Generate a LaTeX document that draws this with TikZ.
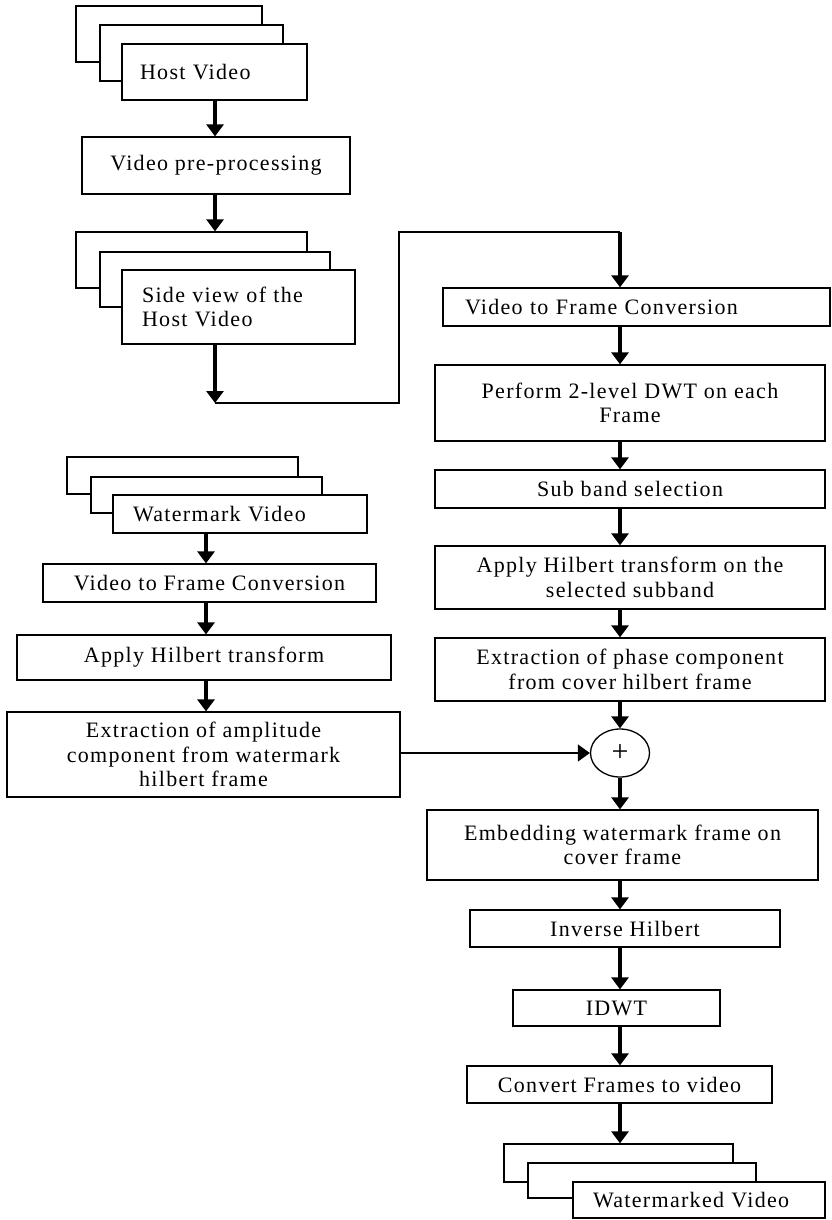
\documentclass[tikz,border=0pt]{standalone}
\usepackage{fontspec}
\setmainfont{Liberation Serif}[LetterSpace=6]
\usetikzlibrary{positioning,arrows.meta,shapes.geometric}
\tikzset{block/.style={draw, line width=1.3pt, fill=white, align=center, inner sep=0pt, font=\fontsize{22}{24.5}\selectfont},
  lblock/.style={block, align=left},
  sheet/.style={draw, line width=1.3pt, fill=white, inner sep=0pt},
  line/.style={-{Triangle[length=12pt,width=17pt]}, line width=4.3pt},
  link/.style={line width=1.3pt}}

\begin{document}
\begin{tikzpicture}[x=1pt,y=-1pt]
    \useasboundingbox (0,0) rectangle (831,1220);
    \coordinate (hc) at (215,0);
    \coordinate (lc) at (206,0);
    \coordinate (rc) at (620,0);

    \node[sheet, minimum width=186pt, minimum height=56pt]              (a1) at (169,34)    {};
    \node[sheet, minimum width=183pt, minimum height=56pt]              (a2) at (191.5,53)  {};
    \node[lblock, text width=149pt, inner xsep=18pt, minimum height=56pt] (a) at (214.5,72) {Host Video};
    \node[block, minimum width=268pt, minimum height=57pt]              (b)  at (216,165.5) {Video pre-processing};
    \node[sheet, minimum width=231pt, minimum height=56pt]              (c1) at (191.5,260) {};
    \node[sheet, minimum width=230pt, minimum height=55pt]              (c2) at (215,279.5) {};
    \node[lblock, text width=193pt, inner xsep=20pt, minimum height=74pt] (c) at (238.5,307) {Side view of the\\Host Video};
    \coordinate (k1) at (215,403);
    \coordinate (k2) at (399,232);

    \node[lblock, text width=343pt, inner xsep=22pt, minimum height=38pt] (d) at (636.5,307) {Video to Frame Conversion};
    \node[block, minimum width=390pt, minimum height=76pt]              (e)  at (630,403)   {Perform 2-level DWT on each\\Frame};
    \node[block, minimum width=390pt, minimum height=38pt]              (f)  at (630,489)   {Sub band selection};
    \node[block, minimum width=390pt, minimum height=63pt]              (g)  at (630,577.5) {Apply Hilbert transform on the\\selected subband};
    \node[block, minimum width=390pt, minimum height=63pt]              (h)  at (630,669.5) {Extraction of phase component\\from cover hilbert frame};
    \node[ellipse, draw, line width=1.3pt, minimum width=59pt, minimum height=48pt, inner sep=0pt, font=\fontsize{30}{30}\selectfont] (p) at (620,753) {+};
    \node[block, minimum width=391pt, minimum height=70pt]              (i)  at (622.5,845) {Embedding watermark frame on\\cover frame};
    \node[block, minimum width=310pt, minimum height=37pt]              (j)  at (625,928.5) {Inverse Hilbert};
    \node[block, minimum width=207pt, minimum height=36pt]              (k)  at (616.5,1008) {IDWT};
    \node[block, minimum width=305pt, minimum height=37pt]              (l)  at (619.5,1084.5) {Convert Frames to video};
    \node[sheet, minimum width=229pt, minimum height=38pt]              (m1) at (618.5,1163) {};
    \node[sheet, minimum width=228pt, minimum height=35pt]              (m2) at (642,1180.5) {};
    \node[lblock, text width=212pt, inner xsep=20pt, minimum height=36pt] (m) at (699,1200) {Watermarked Video};

    \node[sheet, minimum width=231pt, minimum height=37pt]              (n1) at (182.5,475.5) {};
    \node[sheet, minimum width=231pt, minimum height=36pt]              (n2) at (206.5,495) {};
    \node[lblock, text width=214pt, inner xsep=20pt, minimum height=38pt] (n) at (240,514) {Watermark Video};
    \node[block, minimum width=333pt, minimum height=38pt]              (o)  at (209.5,583) {Video to Frame Conversion};
    \node[block, minimum width=374pt, minimum height=45pt]              (q)  at (204,657.5) {Apply Hilbert transform};
    \node[block, minimum width=393pt, minimum height=85pt]              (r)  at (203.5,754.5) {Extraction of amplitude\\component from watermark\\hilbert frame};

    \foreach \u/\v in {a/b,b/c1}
        \draw[line] (\u.south -| hc) -- (\v.north -| hc);
    \draw[line] (c.south -| hc) -- (k1);
    \draw[link] (k1) -| (k2) -- (k2 -| rc);
    \draw[line] (k2 -| rc) -- (d.north -| rc);
    \foreach \u/\v in {d/e,e/f,f/g,g/h,h/p,p/i,i/j,j/k,k/l,l/m1}
        \draw[line] (\u.south -| rc) -- (\v.north -| rc);
    \foreach \u/\v in {n/o,o/q,q/r}
        \draw[line] (\u.south -| lc) -- (\v.north -| lc);
    \draw[link, -{Triangle[length=12pt,width=17pt]}] (r.east |- p) -- (p.west);
\end{tikzpicture}
\end{document}
